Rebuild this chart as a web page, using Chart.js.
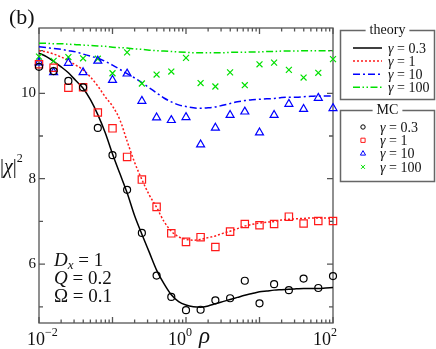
<!DOCTYPE html>
<html><head><meta charset="utf-8">
<script src="https://cdn.jsdelivr.net/npm/chart.js@4/dist/chart.umd.min.js"></script>
<style>html,body{margin:0;padding:0;background:#fff}#wrap{width:436px;height:349px;position:relative}</style>
</head><body><div id="wrap"><canvas id="c" width="436" height="349"></canvas></div>
<script>
// ---------- data ----------
const rhoTheory = [0.01,0.0126,0.0158,0.02,0.0251,0.0316,0.0398,0.0501,0.0631,0.0794,
  0.1,0.126,0.158,0.2,0.251,0.316,0.398,0.501,0.631,0.794,
  1,1.26,1.58,2,2.51,3.16,3.98,5.01,6.31,7.94,
  10,12.6,15.8,20,25.1,31.6,39.8,50.1,63.1,79.4,100];
const theoryG03 = [10.94,10.86,10.75,10.62,10.48,10.30,10.12,9.85,9.50,9.08,
  8.58,8.12,7.67,7.13,6.70,6.28,5.86,5.54,5.28,5.12,
  5.04,5.00,4.99,5.02,5.07,5.12,5.17,5.22,5.27,5.31,
  5.35,5.37,5.39,5.40,5.41,5.42,5.43,5.43,5.43,5.44,5.45];
const theoryG1 = [11.00,10.97,10.92,10.85,10.77,10.66,10.55,10.38,10.17,9.92,
  9.70,9.38,8.88,8.38,7.98,7.62,7.33,7.00,6.77,6.64,
  6.58,6.56,6.58,6.62,6.66,6.72,6.77,6.83,6.89,6.93,
  6.96,6.98,7.00,7.03,7.05,7.06,7.07,7.08,7.08,7.08,7.07];
const theoryG10 = [11.09,11.07,11.05,11.03,11.00,10.97,10.92,10.87,10.82,10.75,
  10.66,10.56,10.46,10.36,10.25,10.13,10.01,9.89,9.80,9.73,
  9.69,9.66,9.65,9.66,9.68,9.72,9.76,9.80,9.83,9.85,
  9.86,9.87,9.88,9.90,9.91,9.91,9.92,9.93,9.94,9.94,9.94];
const theoryG100 = [11.17,11.17,11.16,11.16,11.15,11.14,11.13,11.12,11.11,11.10,
  11.08,11.07,11.06,11.04,11.03,11.01,11.00,10.99,10.98,10.97,
  10.96,10.95,10.95,10.95,10.95,10.95,10.96,10.96,10.96,10.97,
  10.97,10.98,10.98,10.99,10.99,10.99,11.00,11.00,11.00,11.00,11.00];

const rhoMC = [0.01,0.0158,0.0251,0.0398,0.0631,0.1,0.158,0.251,0.398,0.631,
  1,1.58,2.51,3.98,6.31,10,15.8,25.1,39.8,63.1,100];
const mcG03 = [10.62,10.52,10.29,10.14,9.19,8.55,7.74,6.73,5.73,5.23,
  4.92,4.93,5.15,5.20,5.61,5.08,5.53,5.39,5.66,5.44,5.72];
const mcG1 = [10.68,10.60,10.13,10.14,9.55,9.18,8.51,7.98,7.34,6.72,
  6.52,6.63,6.40,6.76,6.94,6.91,6.94,7.11,6.95,7.01,7.01];
const mcG10 = [10.72,10.49,10.71,10.49,10.76,10.31,10.46,9.82,9.43,9.37,
  9.44,8.80,9.19,9.49,9.57,9.08,9.49,9.75,9.63,9.89,9.65];
const mcG100 = [10.86,10.76,10.85,10.82,10.81,10.47,10.96,10.23,10.44,10.51,
  10.83,10.24,10.16,10.49,10.19,10.68,10.72,10.55,10.37,10.48,10.80];

const gammaLabels = ['0.3','1','10','100'];
const xLabelValues = [0.01, 1, 100];
const xLabelExps = ['\u22122', '0', '2'];
const yLabelValues = [6, 8, 10];
const yTickValues = [5, 6, 7, 8, 9, 10, 11];
const xDecades = [0.01, 0.1, 1, 10, 100];

// ---------- styles ----------
const SERIF = '"Liberation Serif","DejaVu Serif",serif';
const colors = ['#000000', '#ff1a1a', '#0000ff', '#00e000'];
const dashes = [[], [2, 2], [7, 3, 2, 3], [7, 2.5, 1.5, 2.5, 1.5, 2.5]];
const mcStyles = ['circle', 'rect', 'triangle', 'crossRot'];
const mcRadius = [3.5, 5.2, 4.6, 4.2];
const legendRadius = [2.2, 3.0, 3.0, 2.8];

const theoryArrays = [theoryG03, theoryG1, theoryG10, theoryG100];
const mcArrays = [mcG03, mcG1, mcG10, mcG100];

const datasets = [];
theoryArrays.forEach((arr, i) => {
  datasets.push({
    type: 'line', label: 'theory γ = ' + gammaLabels[i],
    data: rhoTheory.map((x, j) => ({x, y: arr[j]})),
    borderColor: colors[i], borderWidth: 1.5, borderDash: dashes[i],
    pointRadius: 0, fill: false, cubicInterpolationMode: 'monotone', clip: false, order: 1
  });
});
mcArrays.forEach((arr, i) => {
  datasets.push({
    type: 'line', label: 'MC γ = ' + gammaLabels[i], showLine: false,
    data: rhoMC.map((x, j) => ({x, y: arr[j]})),
    borderColor: colors[i], backgroundColor: 'rgba(0,0,0,0)',
    pointStyle: mcStyles[i], pointRadius: mcRadius[i], pointBorderWidth: 1.2,
    pointBackgroundColor: 'rgba(0,0,0,0)', pointBorderColor: colors[i], clip: false, order: 0
  });
});

function richText(ctx, x, y, segs, align) {
  let w = 0;
  segs.forEach(s => { ctx.font = s.font; w += ctx.measureText(s.t).width; });
  let cx = align === 'center' ? x - w / 2 : x;
  segs.forEach(s => { ctx.font = s.font; ctx.fillText(s.t, cx, y + (s.dy || 0)); cx += ctx.measureText(s.t).width; });
}

function legendBox(ctx, x0, y0, x1, y1, title) {
  ctx.save();
  ctx.font = '14px ' + SERIF;
  const tw = ctx.measureText(title).width;
  const cx = (x0 + x1) / 2, gap = 4;
  ctx.strokeStyle = '#666'; ctx.lineWidth = 1.5; ctx.setLineDash([]);
  ctx.beginPath();
  ctx.moveTo(cx - tw / 2 - gap, y0); ctx.lineTo(x0, y0); ctx.lineTo(x0, y1);
  ctx.lineTo(x1, y1); ctx.lineTo(x1, y0); ctx.lineTo(cx + tw / 2 + gap, y0);
  ctx.stroke();
  ctx.fillStyle = '#111'; ctx.textAlign = 'center'; ctx.textBaseline = 'middle';
  ctx.fillText(title, cx, y0);
  ctx.restore();
}

const framePlugin = {
  id: 'frame',
  beforeDatasetsDraw(chart) {
    const {ctx, chartArea: a, scales: {x, y}} = chart;
    ctx.save();
    ctx.strokeStyle = '#555'; ctx.lineWidth = 1.3; ctx.setLineDash([]);
    ctx.strokeRect(a.left, a.top, a.right - a.left, a.bottom - a.top);
    ctx.beginPath();
    // x ticks (major decades, minor 2..9), bottom and top, inward
    xDecades.forEach((d, k) => {
      const px = x.getPixelForValue(d);
      ctx.moveTo(px, a.bottom); ctx.lineTo(px, a.bottom - 6);
      ctx.moveTo(px, a.top); ctx.lineTo(px, a.top + 6);
      if (k < xDecades.length - 1) {
        for (let m = 2; m <= 9; m++) {
          const pm = x.getPixelForValue(d * m);
          ctx.moveTo(pm, a.bottom); ctx.lineTo(pm, a.bottom - 3.5);
          ctx.moveTo(pm, a.top); ctx.lineTo(pm, a.top + 3.5);
        }
      }
    });
    yTickValues.forEach(v => {
      const py = y.getPixelForValue(v);
      const len = yLabelValues.includes(v) ? 6 : 4;
      ctx.moveTo(a.left, py); ctx.lineTo(a.left + len, py);
      ctx.moveTo(a.right, py); ctx.lineTo(a.right - len, py);
    });
    ctx.stroke();
    ctx.restore();
  },
  afterDraw(chart) {
    const {ctx, chartArea: a, scales: {x, y}} = chart;
    ctx.save();
    ctx.fillStyle = '#111';
    ctx.textBaseline = 'alphabetic'; ctx.textAlign = 'left';
    // x tick labels with exponents
    const startOffsets = [-12, -18, -20];
    xLabelValues.forEach((v, i) => {
      const px = x.getPixelForValue(v) + startOffsets[i];
      richText(ctx, px, 345, [
        {t: '10', font: '18px ' + SERIF},
        {t: xLabelExps[i], font: '12px ' + SERIF, dy: -9}
      ], 'left');
    });
    // x axis title
    richText(ctx, 199, 343, [{t: 'ρ', font: 'italic 23px ' + SERIF}], 'left');
    // y axis title
    richText(ctx, 0, 173, [
      {t: '|', font: '20px ' + SERIF},
      {t: 'χ', font: 'italic 20px ' + SERIF},
      {t: '|', font: '20px ' + SERIF},
      {t: '2', font: '12px ' + SERIF, dy: -11}
    ], 'left');
    // panel label
    richText(ctx, 9, 24, [{t: '(b)', font: '22px ' + SERIF}], 'left');
    // parameter annotation
    richText(ctx, 54, 266, [
      {t: 'D', font: 'italic 19px ' + SERIF},
      {t: 'x', font: 'italic 13px ' + SERIF, dy: 3},
      {t: ' = 1', font: '19px ' + SERIF}
    ], 'left');
    richText(ctx, 54, 284, [
      {t: 'Q', font: 'italic 19px ' + SERIF},
      {t: ' = 0.2', font: '19px ' + SERIF}
    ], 'left');
    richText(ctx, 54, 302, [
      {t: 'Ω', font: '19px ' + SERIF},
      {t: ' = 0.1', font: '19px ' + SERIF}
    ], 'left');

    // legends
    legendBox(ctx, 340.5, 30.5, 434.5, 99.5, 'theory');
    legendBox(ctx, 340.5, 110.5, 434.5, 181.5, 'MC');
    const ds = chart.data.datasets;
    for (let i = 0; i < 4; i++) {
      const yy = 48 + i * 13.1;
      const d = ds[i];
      ctx.save();
      ctx.strokeStyle = d.borderColor; ctx.lineWidth = 1.5; ctx.setLineDash(d.borderDash);
      ctx.beginPath(); ctx.moveTo(353, yy); ctx.lineTo(382, yy); ctx.stroke();
      ctx.restore();
      ctx.fillStyle = '#111'; ctx.textBaseline = 'middle';
      richText(ctx, 388, yy + 1, [
        {t: 'γ', font: 'italic 14px ' + SERIF},
        {t: ' = ' + gammaLabels[i], font: '14px ' + SERIF}
      ], 'left');
    }
    for (let i = 0; i < 4; i++) {
      const yy = 127 + i * 13.3;
      const d = ds[4 + i];
      ctx.save();
      ctx.strokeStyle = d.pointBorderColor; ctx.fillStyle = 'rgba(0,0,0,0)'; ctx.lineWidth = 1;
      ctx.setLineDash([]);
      Chart.helpers.drawPoint(ctx, {pointStyle: d.pointStyle, radius: legendRadius[i], borderWidth: 1, rotation: 0}, 363, yy);
      ctx.restore();
      ctx.fillStyle = '#111'; ctx.textBaseline = 'middle';
      richText(ctx, 380, yy + 1, [
        {t: 'γ', font: 'italic 14px ' + SERIF},
        {t: ' = ' + gammaLabels[i], font: '14px ' + SERIF}
      ], 'left');
    }
    ctx.restore();
  }
};

new Chart(document.getElementById('c'), {
  type: 'line',
  data: {datasets},
  options: {
    responsive: false, devicePixelRatio: 1, animation: false,
    layout: {padding: {left: 0, top: 28, right: 103, bottom: 0}},
    plugins: {legend: {display: false}, tooltip: {enabled: false}},
    scales: {
      x: {
        type: 'logarithmic', min: 0.01, max: 100,
        grid: {display: false, drawTicks: false}, border: {display: false},
        ticks: {display: false},
        afterFit: s => { s.height = 26; }
      },
      y: {
        type: 'linear', min: 4.62, max: 11.53,
        grid: {display: false, drawTicks: false}, border: {display: false},
        ticks: {
          stepSize: 1, padding: 3, color: '#111',
          font: {family: SERIF, size: 15},
          callback: v => yLabelValues.includes(v) ? String(v) : ''
        },
        afterFit: s => { s.width = 39; }
      }
    }
  },
  plugins: [framePlugin]
});
</script>
</body></html>
